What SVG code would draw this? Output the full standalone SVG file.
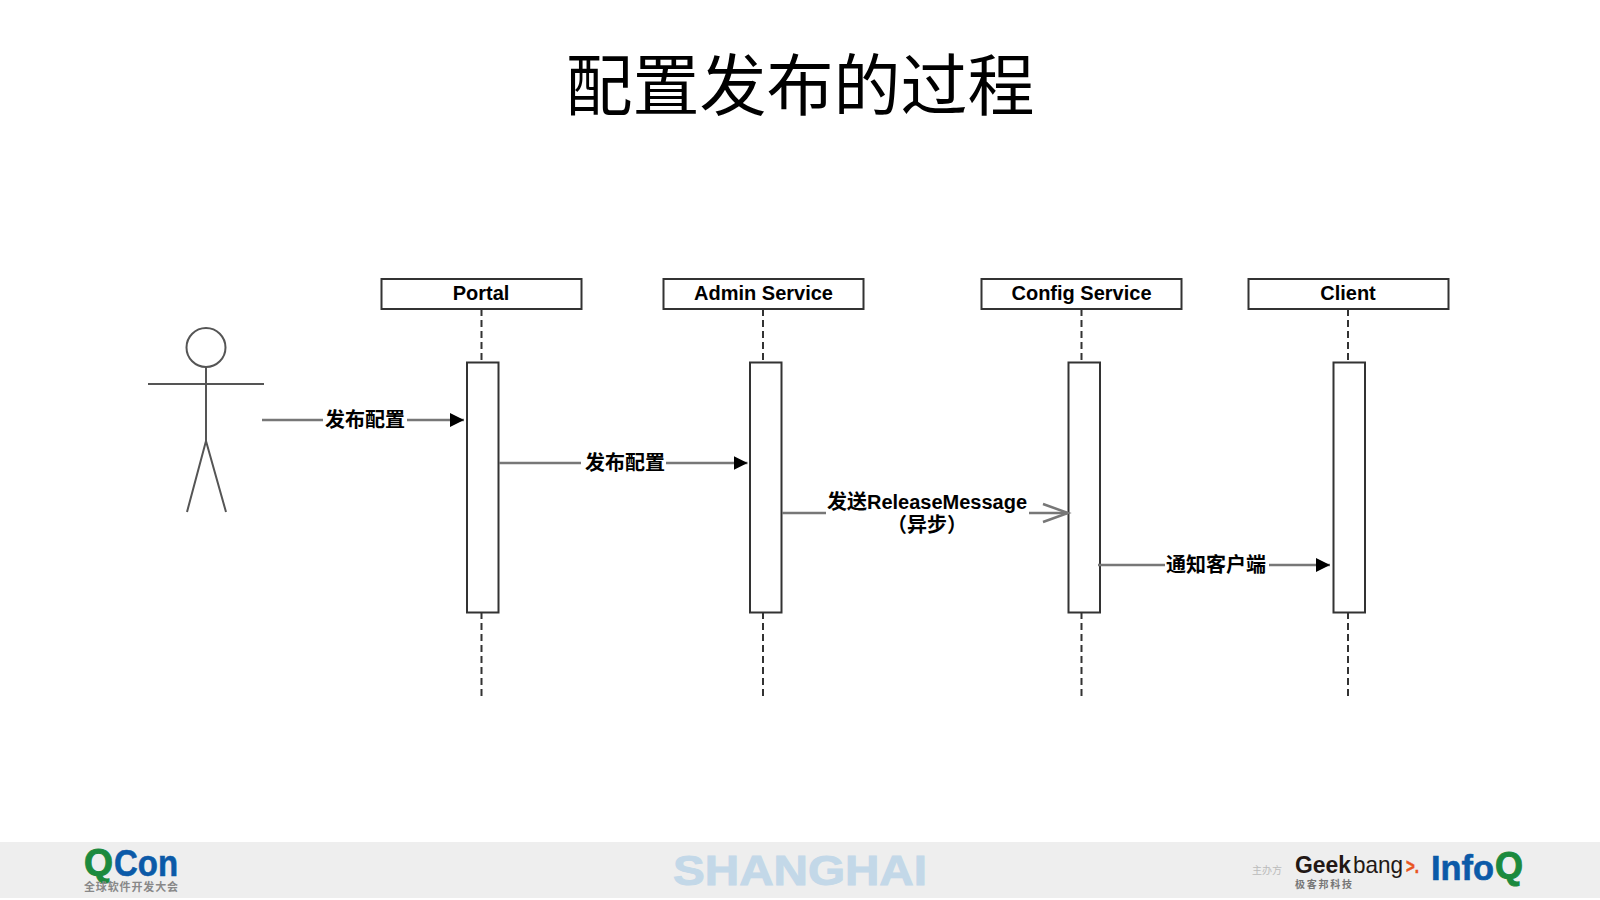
<svg xmlns="http://www.w3.org/2000/svg" width="1600" height="900" viewBox="0 0 1600 900">
<style>
text{font-family:"Liberation Sans","Noto Sans CJK SC",sans-serif}
.box{fill:#fff;stroke:#333;stroke-width:2}
.life{stroke:#333;stroke-width:2;stroke-dasharray:7 4;fill:none}
.msg{stroke:#777;stroke-width:2.500;fill:none}
.lab{font-size:20px;font-weight:bold;fill:#000;text-anchor:middle}
.actor{stroke:#555;stroke-width:2;fill:none}
</style>
<defs>
<marker id="solid" markerUnits="userSpaceOnUse" markerWidth="16" markerHeight="14" refX="14" refY="7" orient="auto"><path d="M0 0L14 7L0 14Z" fill="#000"/></marker>
</defs>
<rect width="1600" height="900" fill="#fff"/>
<text x="800" y="110" font-size="67" text-anchor="middle" fill="#000" style="font-family:'Noto Sans CJK SC',sans-serif">配置发布的过程</text>
<g id="actor">
<circle class="actor" cx="206" cy="347.500" r="19.500"/>
<path class="actor" d="M206 367V441M148 384H264M187 512L206 441L226 512"/>
</g>
<g id="portal"><rect class="box" x="381.500" y="279" width="200" height="30"/><text class="lab" x="481" y="300">Portal</text></g>
<g id="admin-service"><rect class="box" x="663.500" y="279" width="200" height="30"/><text class="lab" x="763.500" y="300">Admin Service</text></g>
<g id="config-service"><rect class="box" x="981.500" y="279" width="200" height="30"/><text class="lab" x="1081.500" y="300">Config Service</text></g>
<g id="client"><rect class="box" x="1248.500" y="279" width="200" height="30"/><text class="lab" x="1348" y="300">Client</text></g>
<g id="activation-portal"><rect class="box" x="467" y="362.500" width="31.500" height="250"/></g>
<g id="activation-admin"><rect class="box" x="750" y="362.500" width="31.500" height="250"/></g>
<g id="activation-config"><rect class="box" x="1068.500" y="362.500" width="31.500" height="250"/></g>
<g id="activation-client"><rect class="box" x="1333.500" y="362.500" width="31.500" height="250"/></g>
<g id="connectors">
<path class="life" d="M481.500 309V362M481.500 612V697"/>
<path class="life" d="M763 309V362M763 612V697"/>
<path class="life" d="M1081.500 309V362M1081.500 612V697"/>
<path class="life" d="M1348 309V362M1348 612V697"/>
<path class="msg" d="M262 420H323M407 420H464" marker-end="url(#solid)"/>
<path class="msg" d="M499 463H581M666 463H747.500" marker-end="url(#solid)"/>
<path class="msg" d="M782 513H826M1029 513H1068"/>
<path class="msg" d="M1043 504L1068 513L1043 522"/>
<path class="msg" d="M1098 565H1165M1269 565H1330" marker-end="url(#solid)"/>
</g>
<g id="message-labels">
<text class="lab" x="365" y="427">发布配置</text>
<text class="lab" x="625" y="470">发布配置</text>
<text class="lab" x="927" y="508.500">发送ReleaseMessage</text>
<text class="lab" x="927" y="531.500">（异步）</text>
<text class="lab" x="1216" y="572">通知客户端</text>
</g>
<g id="footer">
<rect x="0" y="842" width="1600" height="56" fill="#eee"/>
<text x="800" y="885" font-size="43" font-weight="bold" text-anchor="middle" fill="#c3d8e8" stroke="#c3d8e8" stroke-width="1" textLength="254" lengthAdjust="spacingAndGlyphs">SHANGHAI</text>
<text x="84" y="875" font-size="36" font-weight="bold" fill="#1b8a3e" stroke="#1b8a3e" textLength="29" lengthAdjust="spacingAndGlyphs">Q</text>
<text x="114" y="876" font-size="37" font-weight="bold" fill="#0b5aa8" stroke="#0b5aa8" stroke-width=".6" textLength="64" lengthAdjust="spacingAndGlyphs">Con</text>
<text x="84" y="891" font-size="11" font-weight="bold" fill="#888" textLength="94">全球软件开发大会</text>
<text x="1252" y="874" font-size="10" fill="#bbb">主办方</text>
<text x="1295" y="873" font-size="24" font-weight="bold" fill="#231815" textLength="56" lengthAdjust="spacingAndGlyphs">Geek</text>
<text x="1353" y="873" font-size="24" fill="#231815" textLength="50" lengthAdjust="spacingAndGlyphs">bang</text>
<text x="1406" y="873" font-size="20" font-weight="bold" fill="#e8541e" stroke="#e8541e" stroke-width=".5" textLength="13" lengthAdjust="spacingAndGlyphs">&gt;.</text>
<text x="1295" y="888" font-size="10" font-weight="bold" fill="#777" textLength="57">极客邦科技</text>
<text x="1431" y="880" font-size="35" font-weight="bold" fill="#0b5aa8" stroke="#0b5aa8" stroke-width=".6" textLength="63" lengthAdjust="spacingAndGlyphs">Info</text>
<text x="1495" y="878" font-size="36" font-weight="bold" fill="#1b8a3e" stroke="#1b8a3e" textLength="28" lengthAdjust="spacingAndGlyphs">Q</text>
</g>
</svg>
